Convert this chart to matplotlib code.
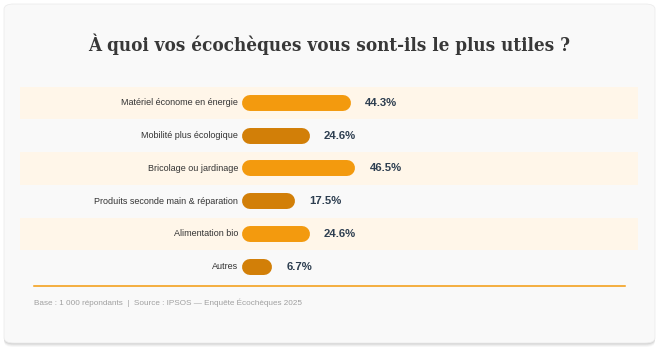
import matplotlib
matplotlib.use("Agg")
import matplotlib.pyplot as plt
from matplotlib.patches import FancyBboxPatch

categories = ["Matériel économe en énergie", "Mobilité plus écologique", "Bricolage ou jardinage",
              "Produits seconde main & réparation", "Alimentation bio", "Autres"]
values = [44.3, 24.6, 46.5, 17.5, 24.6, 6.7]
value_labels = ["44.3%", "24.6%", "46.5%", "17.5%", "24.6%", "6.7%"]
title = "À quoi vos écochèques vous sont-ils le plus utiles ?"
footer = "Base : 1 000 répondants  |  Source : IPSOS — Enquête Écochèques 2025"

W, H = 659, 352
fig = plt.figure(figsize=(W / 100, H / 100), dpi=100)
fig.patch.set_facecolor("white")

def fx(px):
    return px / W

def fy(py):
    return 1 - py / H

# card shadow and card
for i, a in enumerate([0.03, 0.04, 0.05, 0.06]):
    off = 4 - i
    sh = FancyBboxPatch((fx(4), fy(343 + off)), fx(651), (338) / H,
                        boxstyle="round,pad=0,rounding_size=0.015",
                        transform=fig.transFigure, facecolor="#000000", alpha=a,
                        edgecolor="none", zorder=0)
    fig.patches.append(sh)
card = FancyBboxPatch((fx(4), fy(343)), fx(651), 339 / H,
                      boxstyle="round,pad=0,rounding_size=0.015",
                      transform=fig.transFigure, facecolor="#f9f9f9",
                      edgecolor="#ececec", linewidth=0.6, zorder=1)
fig.patches.append(card)

fig.text(fx(329.5), fy(44), title, ha="center", va="center",
         fontsize=13.5, fontweight="bold", family="DejaVu Serif", color="#383838",
         fontstretch="condensed", zorder=5)

# bar axes
left_px, right_px = 20, 638
top_px, bot_px = 86.6, 283
zero_px = 250
scale = 2.095
ax = fig.add_axes([fx(left_px), fy(bot_px), fx(right_px - left_px), (bot_px - top_px) / H])
ax.set_xlim(-(zero_px - left_px) / scale, (right_px - zero_px) / scale)
ax.set_ylim(len(values) - 0.5, -0.5)
ax.axis("off")
ax.set_zorder(3)

bright = "#f39a0e"
dark = "#d27f08"
for i, (cat, v, lab) in enumerate(zip(categories, values, value_labels)):
    if i % 2 == 0:
        ax.axhspan(i - 0.5, i + 0.5, color="#fff6e9", zorder=0, lw=0)
    col = bright if i % 2 == 0 else dark
    ax.plot([0, v], [i, i], color=col, lw=11.5, solid_capstyle="round", zorder=2)
    ax.annotate(cat, xy=(0, i), xytext=(-8.6, 0), textcoords="offset points",
                ha="right", va="center", fontsize=6.5, family="Liberation Sans",
                color="#333333")
    ax.annotate(lab, xy=(v, i), xytext=(16, 0), textcoords="offset points",
                ha="left", va="center", fontsize=8.2, fontweight="bold",
                family="Liberation Sans", color="#2d3e50")

# orange rule
fig.add_artist(plt.Line2D([fx(34), fx(625)], [fy(286), fy(286)], color="#f39a0e",
                          lw=1.1, transform=fig.transFigure, zorder=4))
fig.text(fx(34), fy(303), footer, ha="left", va="center", fontsize=5.9,
         family="Liberation Sans", color="#a0a0a0", zorder=5)

fig.savefig("out.png", dpi=100, facecolor="white")
